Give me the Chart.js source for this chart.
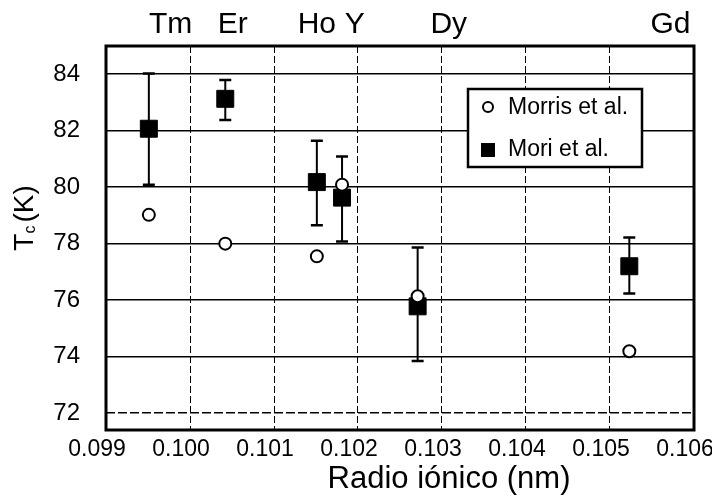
<!DOCTYPE html>
<html lang="es">
<head>
<meta charset="UTF-8">
<title>Tc frente a radio iónico</title>
<script src="https://cdn.jsdelivr.net/npm/chart.js"></script>
<style>
  html, body { margin: 0; padding: 0; background: #fff; }
</style>
</head>
<body>
<canvas id="tcChart" width="712" height="499"></canvas>
<script>
// rare-earth labels along the top, at their ionic radius (nm)
const elements = ["Tm", "Er", "Ho", "Y", "Dy", "Gd"];
const elementLabelX = [0.09977, 0.10051, 0.10151, 0.10196, 0.10308, 0.10572];

// Mori et al. (filled squares with error bars)
const moriRadius = [0.09951, 0.10042, 0.10151, 0.10181, 0.10271, 0.10523];
const moriTc = [82.07, 83.13, 80.18, 79.63, 75.78, 77.2];
const moriHigh = [84.03, 83.8, 81.64, 81.09, 77.86, 78.22];
const moriLow = [80.09, 82.38, 78.65, 78.08, 73.84, 76.23];

// Morris et al. (open circles)
const morrisRadius = [0.09951, 0.10042, 0.10151, 0.10181, 0.10271, 0.10523];
const morrisTc = [79.02, 78.0, 77.55, 80.09, 76.14, 74.19];

const xTicks = [0.099, 0.100, 0.101, 0.102, 0.103, 0.104, 0.105, 0.106];
const yTicks = [72, 74, 76, 78, 80, 82, 84];

const FONT = "'Liberation Sans', Arial, sans-serif";

const decor = {
    id: "decor",
    beforeDatasetsDraw(chart) {
        const { ctx, chartArea: a, scales: { x, y } } = chart;
        ctx.save();
        // heavy frame round the plot
        ctx.strokeStyle = "#000";
        ctx.lineWidth = 3;
        ctx.strokeRect(a.left, a.top, a.width, a.height);

        // error bars for Mori et al.
        moriRadius.forEach((r, i) => {
            const px = x.getPixelForValue(r);
            const top = y.getPixelForValue(moriHigh[i]);
            const bot = y.getPixelForValue(moriLow[i]);
            ctx.lineWidth = 2;
            ctx.beginPath();
            ctx.moveTo(px, top);
            ctx.lineTo(px, bot);
            ctx.stroke();
            ctx.lineWidth = 2.5;
            ctx.beginPath();
            ctx.moveTo(px - 6, top);
            ctx.lineTo(px + 6, top);
            ctx.moveTo(px - 6, bot);
            ctx.lineTo(px + 6, bot);
            ctx.stroke();
        });
        ctx.restore();
    },
    afterDraw(chart) {
        const { ctx, chartArea: a, scales: { x } } = chart;
        ctx.save();
        ctx.fillStyle = "#000";

        // element names above the frame
        ctx.font = "30px " + FONT;
        ctx.textAlign = "center";
        ctx.textBaseline = "alphabetic";
        elements.forEach((el, i) => {
            ctx.fillText(el, x.getPixelForValue(elementLabelX[i]), a.top - 13);
        });

        // x title, sits right of centre in the original
        ctx.font = "31px " + FONT;
        ctx.fillText("Radio iónico (nm)", 449, 488);

        // y title: T with subscript c, then (K)
        ctx.translate(25, 218);
        ctx.rotate(-Math.PI / 2);
        ctx.textAlign = "left";
        ctx.textBaseline = "middle";
        ctx.font = "28px " + FONT;
        const wT = ctx.measureText("T").width;
        ctx.font = "16px " + FONT;
        const wc = ctx.measureText("c").width;
        ctx.font = "28px " + FONT;
        const wK = ctx.measureText("(K)").width;
        const start = -(wT + wc + 3 + wK) / 2;
        ctx.fillText("T", start, 0);
        ctx.font = "16px " + FONT;
        ctx.fillText("c", start + wT, 6);
        ctx.font = "28px " + FONT;
        ctx.fillText("(K)", start + wT + wc + 3, 0);
        ctx.setTransform(1, 0, 0, 1, 0, 0);

        // legend box
        const bx = 468, by = 89, bw = 174, bh = 78;
        ctx.fillStyle = "#fff";
        ctx.fillRect(bx, by, bw, bh);
        ctx.strokeStyle = "#000";
        ctx.lineWidth = 2.5;
        ctx.strokeRect(bx, by, bw, bh);

        const sets = chart.data.datasets;
        ctx.font = "23px " + FONT;
        ctx.textAlign = "left";
        ctx.textBaseline = "middle";
        // Morris: open circle
        ctx.lineWidth = 2;
        ctx.beginPath();
        ctx.arc(bx + 20, by + 18, 5, 0, Math.PI * 2);
        ctx.stroke();
        ctx.fillStyle = "#000";
        ctx.fillText(sets[0].label, bx + 40, by + 19);
        // Mori: filled square
        ctx.fillRect(bx + 13, by + 54, 14, 14);
        ctx.fillText(sets[1].label, bx + 40, by + 61);
        ctx.restore();
    }
};

new Chart(document.getElementById("tcChart").getContext("2d"), {
    type: "scatter",
    data: {
        datasets: [
            {
                label: "Morris et al.",
                data: morrisRadius.map((r, i) => ({ x: r, y: morrisTc[i] })),
                pointStyle: "circle",
                pointRadius: 6,
                borderColor: "#000",
                backgroundColor: "#fff",
                borderWidth: 2,
                order: 0
            },
            {
                label: "Mori et al.",
                data: moriRadius.map((r, i) => ({ x: r, y: moriTc[i] })),
                pointStyle: "rect",
                pointRadius: 12,
                borderColor: "#000",
                backgroundColor: "#000",
                borderWidth: 1,
                order: 1
            }
        ]
    },
    options: {
        responsive: false,
        animation: false,
        events: [],
        layout: { padding: { top: 46, right: 18, left: 0, bottom: 0 } },
        plugins: {
            legend: { display: false },
            tooltip: { enabled: false }
        },
        scales: {
            x: {
                type: "linear",
                min: 0.099,
                max: 0.106,
                afterBuildTicks: (s) => { s.ticks = xTicks.map(v => ({ value: v })); },
                afterFit: (s) => { s.height = 69; s.paddingLeft = 0; s.paddingRight = 0; },
                grid: { color: "#000", lineWidth: 1, drawTicks: false },
                border: { display: false, dash: [7, 3] },
                ticks: {
                    color: "#000",
                    font: { family: FONT, size: 23 },
                    padding: 6,
                    labelOffset: -9,
                    maxRotation: 0,
                    autoSkip: false,
                    callback: (v) => v.toFixed(3)
                }
            },
            y: {
                min: 71.4,
                max: 85.0,
                afterBuildTicks: (s) => { s.ticks = yTicks.map(v => ({ value: v })); },
                afterFit: (s) => { s.width = 106; },
                grid: { color: "#000", lineWidth: 1.5, drawTicks: false },
                border: {
                    display: false,
                    dash: (c) => (c.tick && c.tick.value === 72 ? [9, 3] : [])
                },
                ticks: {
                    color: "#000",
                    font: { family: FONT, size: 24 },
                    padding: 26,
                    autoSkip: false
                }
            }
        }
    },
    plugins: [decor]
});
</script>
</body>
</html>
